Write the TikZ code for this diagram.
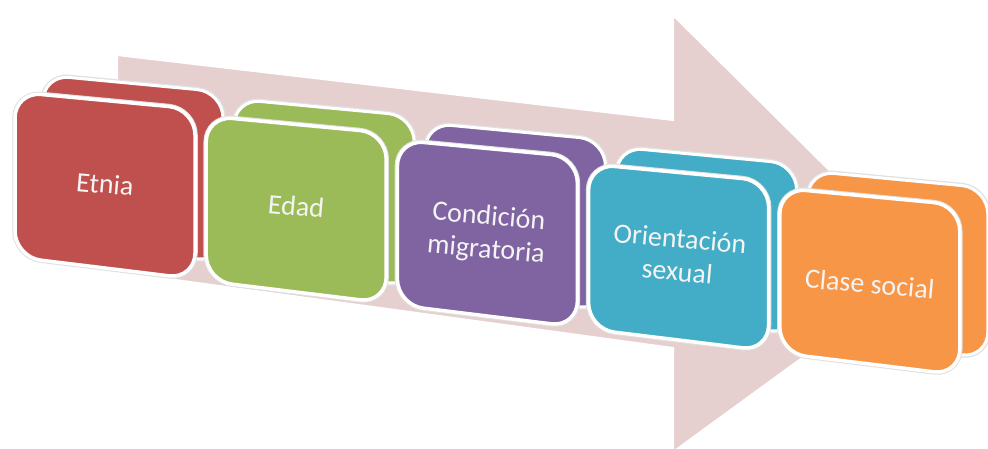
\documentclass[tikz,border=0pt]{standalone}
\usepackage{fontspec}
\setmainfont{Carlito}
\definecolor{arrowpink}{HTML}{E6CFCF}
\definecolor{cred}{HTML}{C0504D}
\definecolor{cgreen}{HTML}{9BBB59}
\definecolor{cpurple}{HTML}{8064A2}
\definecolor{cteal}{HTML}{43ACC6}
\definecolor{corange}{HTML}{F79646}
\definecolor{txt}{HTML}{F4F4F4}
\tikzset{
  bigarrow/.style={fill=arrowpink, draw=white, line width=2pt, line join=miter},
  backface/.style={draw=white, line width=3pt, rounded corners=26pt},
  halo/.style={draw=black!12, line width=5.5pt, rounded corners=26pt},
  frontface/.style={draw=white, line width=3.5pt, rounded corners=26pt},
  label/.style={text=txt, font=\fontsize{28}{33}\selectfont, align=center, rotate=-5, inner sep=0pt}
}
\begin{document}
\begin{tikzpicture}[x=1pt, y=-1pt]
\clip (0,0) rectangle (988,448);
\fill[white] (0,0) rectangle (988,448);
% big background arrow
\coordinate (a1) at (117,55);
\coordinate (a2) at (673,120);
\coordinate (a3) at (673,15);
\coordinate (a4) at (927,267);
\coordinate (a5) at (673,452);
\coordinate (a6) at (673,348);
\coordinate (a7) at (117,272);
\draw[bigarrow] (a1) -- (a2) -- (a3) -- (a4) -- (a5) -- (a6) -- (a7) -- cycle;
% boxes
\foreach \i/\col/\nm in {0/cred/b1, 1/cgreen/b2, 2/cpurple/b3, 3/cteal/b4, 4/corange/b5} {
  \pgfmathsetmacro{\xl}{15+191.2*\i}
  \pgfmathsetmacro{\yt}{92+24*\i}
  \begin{scope}[shift={(\xl,\yt)}]
    \draw[halo] (28,-17) -- (208,0) -- (208,170) -- (28,148) -- cycle;
    \draw[backface, fill=\col] (28,-17) -- (208,0) -- (208,170) -- (28,148) -- cycle;
    \draw[halo] (0,0) -- (180,17) -- (180,187) -- (0,165) -- cycle;
    \draw[frontface, fill=\col] (0,0) -- (180,17) -- (180,187) -- (0,165) -- cycle;
    \coordinate (\nm) at (90,92);
  \end{scope}
}
\node[label] (t1) at (b1) {Etnia};
\node[label] (t2) at ([yshift=2pt]b2) {Edad};
\node[label] (t3) at ([yshift=-2pt]b3) {Condición\\migratoria};
\node[label] (t4) at ([yshift=1pt]b4) {Orientación\\sexual};
\node[label] (t5) at ([yshift=-4pt]b5) {Clase social};
\end{tikzpicture}
\end{document}
